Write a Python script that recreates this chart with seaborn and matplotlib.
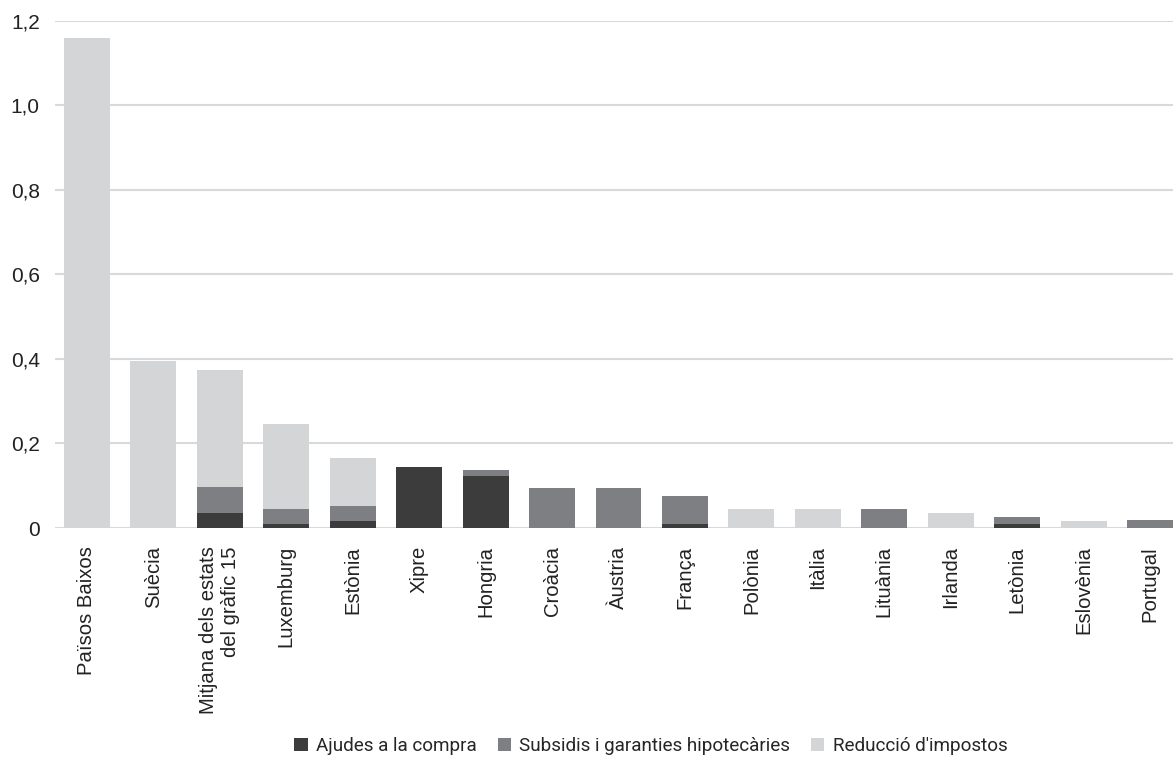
import numpy as np
import matplotlib
matplotlib.use("Agg")
import matplotlib.pyplot as plt
from matplotlib.patches import Patch
from matplotlib.ticker import FuncFormatter
import seaborn as sns

# Categories and series (share of GDP)
countries = [
    "Països Baixos", "Suècia", "Mitjana dels estats\ndel gràfic 15", "Luxemburg",
    "Estònia", "Xipre", "Hongria", "Croàcia", "Àustria", "França", "Polònia",
    "Itàlia", "Lituània", "Irlanda", "Letònia", "Eslovènia", "Portugal",
]
ajudes = [0.0, 0.0, 0.036, 0.010, 0.017, 0.145, 0.124, 0.0, 0.0, 0.010, 0.0,
          0.0, 0.0, 0.0, 0.010, 0.0, 0.0]
subsidis = [0.0, 0.0, 0.062, 0.035, 0.035, 0.0, 0.014, 0.095, 0.095, 0.066, 0.0,
            0.0, 0.045, 0.0, 0.016, 0.0, 0.019]
reduccio = [1.16, 0.395, 0.277, 0.202, 0.114, 0.0, 0.0, 0.0, 0.0, 0.0, 0.045,
            0.045, 0.0, 0.036, 0.0, 0.017, 0.0]
series_names = ["Ajudes a la compra", "Subsidis i garanties hipotecàries", "Reducció d'impostos"]
y_ticks = [0, 0.2, 0.4, 0.6, 0.8, 1.0, 1.2]

colors = ["#3c3c3c", "#7e7f82", "#d4d5d7"]

sns.set_theme(style="white")
plt.rcParams["font.family"] = ["Liberation Sans", "DejaVu Sans"]

fig = plt.figure(figsize=(11.73, 7.68), dpi=100)
ax = fig.add_axes([0.0469, 0.3125, 0.9531, 0.6602])

bottom = np.zeros(len(countries))
for vals, col in zip([ajudes, subsidis, reduccio], colors):
    sns.barplot(x=countries, y=vals, bottom=bottom, color=col, width=0.69,
                saturation=1, linewidth=0, edgecolor="none", ax=ax, zorder=3)
    bottom = bottom + np.array(vals)

ax.set_ylim(0, 1.2)
ax.set_xlim(-0.48, len(countries) - 1 + 0.345)
ax.set_yticks(y_ticks)
ax.yaxis.set_major_formatter(FuncFormatter(
    lambda v, p: "0" if abs(v) < 1e-9 else f"{v:.1f}".replace(".", ",")))
ax.grid(axis="y", color="#d9d9d9", linewidth=1.5, zorder=0)
ax.grid(axis="x", visible=False)
ax.axhline(0, color="#d9d9d9", linewidth=2, zorder=2)
for s in ax.spines.values():
    s.set_visible(False)

ax.tick_params(axis="y", length=0, pad=11, labelsize=15, labelcolor="#222222")
ax.tick_params(axis="x", length=0, pad=13, labelsize=14.6, labelcolor="#222222")
plt.setp(ax.get_xticklabels(), rotation=90, ha="center", va="top",
         multialignment="right")
ax.set_xlabel("")
ax.set_ylabel("")

handles = [Patch(facecolor=c, edgecolor="none") for c in colors]
fig.legend(handles, series_names, loc="center", bbox_to_anchor=(0.555, 0.028),
           ncol=3, frameon=False, handlelength=0.7, handleheight=0.7,
           handletextpad=0.45, columnspacing=1.1,
           prop={"family": ["Roboto", "DejaVu Sans"], "size": 13.6})

fig.savefig("out.png", dpi=100)
